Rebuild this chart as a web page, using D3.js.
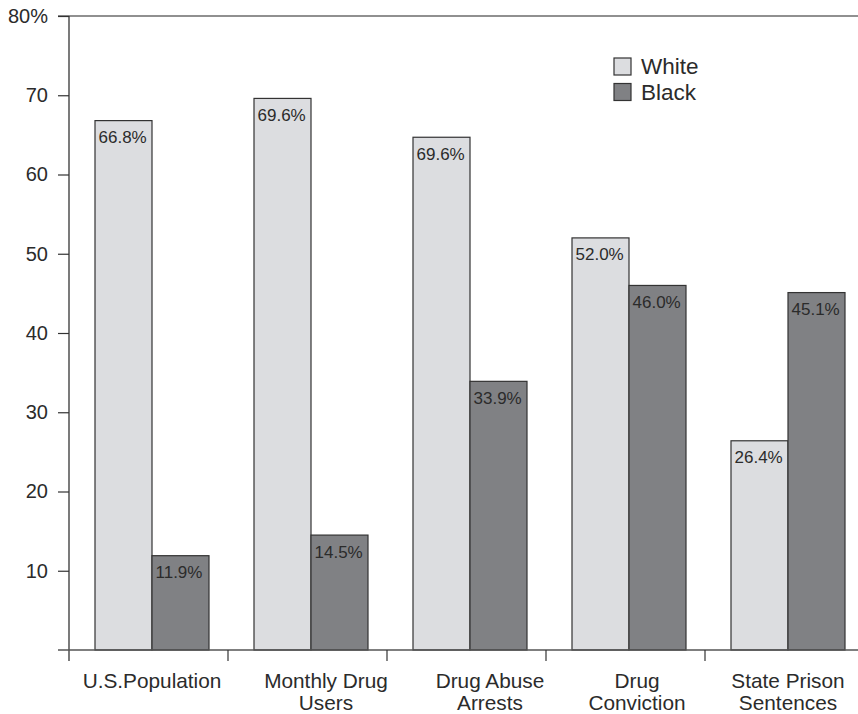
<!DOCTYPE html>
<html>
<head>
<meta charset="utf-8">
<script src="https://cdn.jsdelivr.net/npm/d3@7"></script>
<style>
  html, body { margin: 0; padding: 0; background: #ffffff; }
  svg { display: block; font-family: "Liberation Sans", Arial, Helvetica, sans-serif; }
</style>
</head>
<body>
<svg id="chart" width="858" height="714"></svg>
<script>
// ---- Data ----
const categories = [["U.S.Population"], ["Monthly Drug", "Users"], ["Drug Abuse", "Arrests"], ["Drug", "Conviction"], ["State Prison", "Sentences"]];
const series = ["White", "Black"];
const whiteValues = [66.8, 69.6, 64.7, 52.0, 26.4];
const blackValues = [11.9, 14.5, 33.9, 46.0, 45.1];
const whiteLabels = ["66.8%", "69.6%", "69.6%", "52.0%", "26.4%"];
const blackLabels = ["11.9%", "14.5%", "33.9%", "46.0%", "45.1%"];
const yTicks = [10, 20, 30, 40, 50, 60, 70, 80];
const yTickLabels = ["10", "20", "30", "40", "50", "60", "70", "80%"];

// ---- Layout ----
const colors = { White: "#dcdde0", Black: "#808184" };
const labelNudge = [0, 15, 20, 8, 0];
const svg = d3.select("#chart");
const mLeft = 69, mBottom = 650, mTop = 16;

const y = d3.scaleLinear().domain([0, 80]).range([mBottom, mTop]);
const catKeys = categories.map(c => c.join(" "));
const x0 = d3.scaleBand().domain(catKeys).range([mLeft, mLeft + 5 * 159]).paddingInner(0).paddingOuter(0);
const x1 = d3.scaleBand().domain(series).range([26, 140]).padding(0);

const rows = catKeys.map((k, i) => ({
  key: k, i,
  bars: [
    { s: "White", v: whiteValues[i], label: whiteLabels[i] },
    { s: "Black", v: blackValues[i], label: blackLabels[i] }
  ]
}));

// top line
svg.append("line")
  .attr("x1", 58).attr("x2", 858)
  .attr("y1", y(80)).attr("y2", y(80))
  .attr("stroke", "#6b6b6b").attr("stroke-width", 1.6);

// bars
const g = svg.append("g");
const groups = g.selectAll("g.cat").data(rows).join("g")
  .attr("class", "cat")
  .attr("transform", d => `translate(${x0(d.key)},0)`);

groups.selectAll("rect").data(d => d.bars).join("rect")
  .attr("x", d => x1(d.s))
  .attr("y", d => y(d.v))
  .attr("width", x1.bandwidth())
  .attr("height", d => y(0) - y(d.v))
  .attr("fill", d => colors[d.s])
  .attr("stroke", "#333333")
  .attr("stroke-width", 1.2);

groups.selectAll("text.val").data(d => d.bars).join("text")
  .attr("class", "val")
  .attr("x", d => x1(d.s) + 3.5)
  .attr("y", d => y(d.v) + 22.5)
  .attr("font-size", 17)
  .attr("fill", "#2b2b2b")
  .text(d => d.label);

// y axis
const yAxis = d3.axisLeft(y).tickValues(yTicks).tickSize(11).tickPadding(10)
  .tickFormat((d, i) => yTickLabels[i]);
const ya = svg.append("g").attr("transform", `translate(${mLeft},0)`).call(yAxis);
ya.select(".domain").remove();
ya.append("line").attr("x1", 0).attr("x2", 0).attr("y1", y(80)).attr("y2", mBottom + 11)
  .attr("stroke", "#333").attr("stroke-width", 1.3);
ya.selectAll(".tick line").attr("stroke", "#333").attr("stroke-width", 1.2);
ya.selectAll(".tick text").attr("font-size", 20).attr("fill", "#2b2b2b")
  .attr("font-family", "Liberation Sans, Arial, sans-serif");

// x axis
svg.append("line")
  .attr("x1", 58).attr("x2", 858)
  .attr("y1", mBottom).attr("y2", mBottom)
  .attr("stroke", "#555").attr("stroke-width", 1.6);
const xa = svg.append("g");
xa.selectAll("line.tk").data(catKeys.slice(1)).join("line")
  .attr("class", "tk")
  .attr("x1", d => x0(d)).attr("x2", d => x0(d))
  .attr("y1", mBottom).attr("y2", mBottom + 11)
  .attr("stroke", "#333").attr("stroke-width", 1.2);

xa.selectAll("text.cat").data(rows).join("text")
  .attr("class", "cat")
  .attr("text-anchor", "middle")
  .attr("font-size", 20.8)
  .attr("fill", "#2b2b2b")
  .attr("transform", d => `translate(${x0(d.key) + 83 + labelNudge[d.i]},${mBottom + 38})`)
  .each(function(d) {
    const t = d3.select(this);
    categories[d.i].forEach((line, j) => {
      t.append("tspan").attr("x", 0).attr("y", j * 21.5).text(line);
    });
  });

// legend
const legend = svg.append("g").attr("transform", "translate(614,58)");
series.forEach((s, i) => {
  legend.append("rect")
    .attr("x", 0).attr("y", i * 25.5)
    .attr("width", 17).attr("height", 17)
    .attr("fill", colors[s]).attr("stroke", "#333").attr("stroke-width", 1.2);
  legend.append("text")
    .attr("x", 27).attr("y", i * 25.5 + 16)
    .attr("font-size", 22.5).attr("fill", "#2b2b2b")
    .text(s);
});
</script>
</body>
</html>
